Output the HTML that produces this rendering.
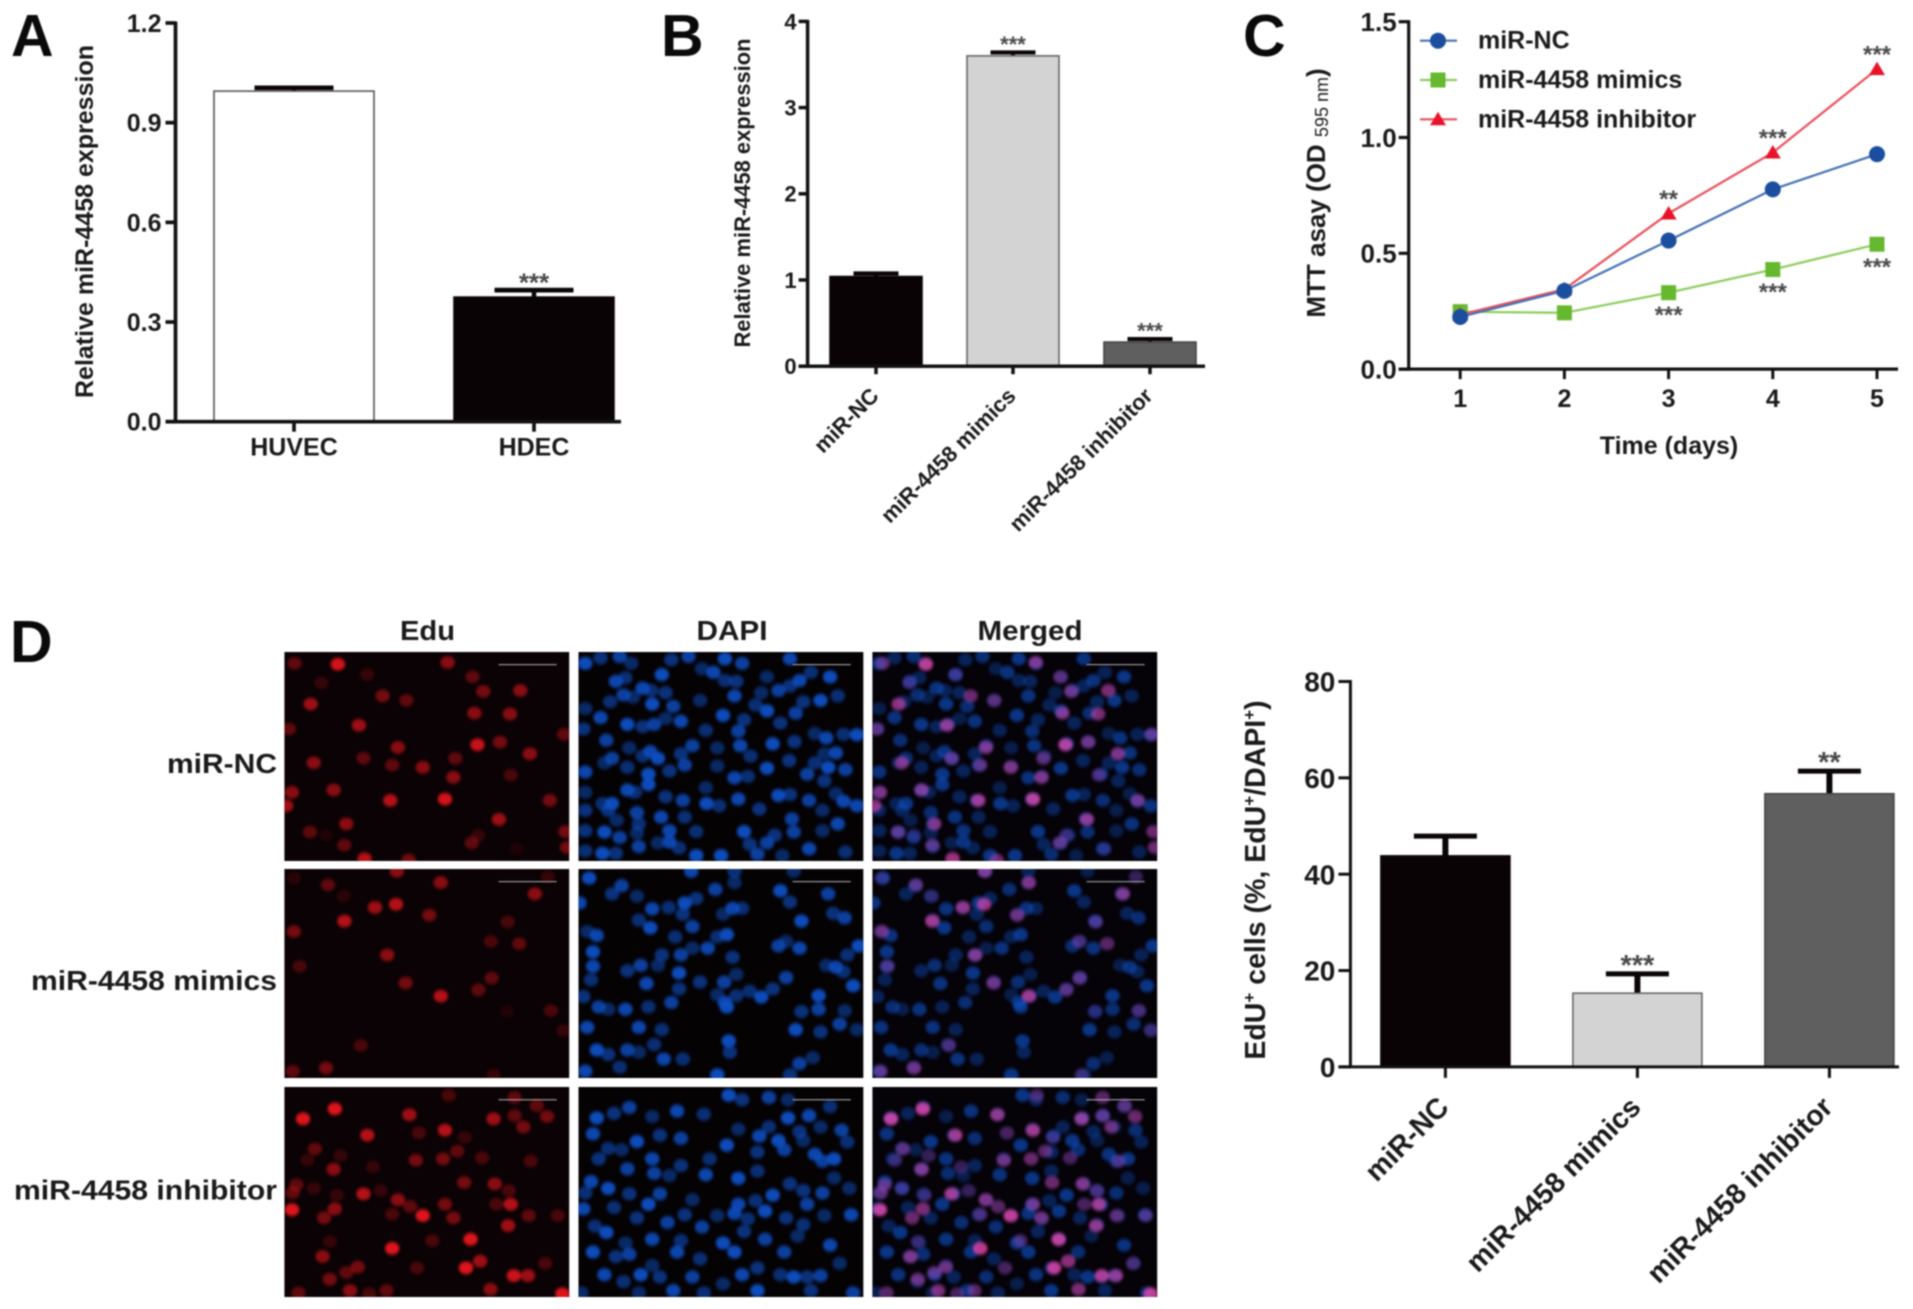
<!DOCTYPE html>
<html lang="en">
<head>
<meta charset="utf-8">
<title>miR-4458 figure</title>
<style>
html,body{margin:0;padding:0;background:#fff;}
svg#figure{display:block;}
text{font-family:"Liberation Sans",Arial,sans-serif;font-weight:bold;fill:#1a1a1a;}
.letter{font-size:59px;fill:#0a0a0a;}
.head{font-size:28px;}
</style>
</head>
<body>
<svg id="figure" xmlns="http://www.w3.org/2000/svg" width="1913" height="1309" viewBox="0 0 1913 1309">
<rect width="1913" height="1309" fill="#fff"/>
<g id="root" style="filter:blur(0.7px)">
<text class="letter" x="11" y="56">A</text>
<text class="letter" x="661" y="56">B</text>
<text class="letter" x="1243" y="56">C</text>
<text class="letter" x="10" y="662">D</text>

<text transform="rotate(-90 93 221.5)" x="93" y="221.5" text-anchor="middle" font-size="25" textLength="353" lengthAdjust="spacingAndGlyphs">Relative miR-4458 expression</text>
<text transform="rotate(-90 750 193)" x="750" y="193" text-anchor="middle" font-size="22" textLength="309" lengthAdjust="spacingAndGlyphs">Relative miR-4458 expression</text>
<text transform="rotate(-90 1325 193)" x="1325" y="193" text-anchor="middle" font-size="26">MTT asay (OD <tspan font-size="18" font-weight="normal" dy="3">595 nm</tspan><tspan dy="-3">)</tspan></text>
<text x="1669" y="454" text-anchor="middle" font-size="25">Time (days)</text>
<text transform="rotate(-90 1265 880)" x="1265" y="880" text-anchor="middle" font-size="28.5">EdU<tspan font-size="17" dy="-10">+</tspan><tspan dy="10"> cells (%, EdU</tspan><tspan font-size="17" dy="-10">+</tspan><tspan dy="10">/DAPI</tspan><tspan font-size="17" dy="-10">+</tspan><tspan dy="10">)</tspan></text>

<text class="head" x="427.5" y="640" text-anchor="middle" textLength="55" lengthAdjust="spacingAndGlyphs">Edu</text>
<text class="head" x="732" y="640" text-anchor="middle" textLength="71" lengthAdjust="spacingAndGlyphs">DAPI</text>
<text class="head" x="1030" y="640" text-anchor="middle" textLength="105" lengthAdjust="spacingAndGlyphs">Merged</text>
<text class="head" x="277" y="773" text-anchor="end" textLength="110" lengthAdjust="spacingAndGlyphs">miR-NC</text>
<text class="head" x="277" y="990" text-anchor="end" textLength="246" lengthAdjust="spacingAndGlyphs">miR-4458 mimics</text>
<text class="head" x="277" y="1199.5" text-anchor="end" textLength="263" lengthAdjust="spacingAndGlyphs">miR-4458 inhibitor</text>
<g id="micro"></g>
<g id="charts"></g>
</g>
</svg>
<script>
/* ---------- chart data ---------- */
const panelACategories = ['HUVEC', 'HDEC'];
const panelAValues = [0.995, 0.375];
const panelAErrors = [0.01, 0.021];
const panelAStars = ['', '***'];
const panelATicks = [0, 0.3, 0.6, 0.9, 1.2];
const panelATickLabels = ['0.0', '0.3', '0.6', '0.9', '1.2'];

const panelBCategories = ['miR-NC', 'miR-4458 mimics', 'miR-4458 inhibitor'];
const panelBValues = [1.04, 3.6, 0.28];
const panelBErrors = [0.035, 0.04, 0.035];
const panelBStars = ['', '***', '***'];
const panelBTicks = [0, 1, 2, 3, 4];
const panelBTickLabels = ['0', '1', '2', '3', '4'];

const panelCDays = [1, 2, 3, 4, 5];
const panelCNC = [0.225, 0.338, 0.555, 0.776, 0.928];
const panelCMimics = [0.248, 0.243, 0.33, 0.43, 0.539];
const panelCInhibitor = [0.235, 0.345, 0.672, 0.935, 1.295];
const panelCInhibitorStars = ['', '', '**', '***', '***'];
const panelCMimicsStars = ['', '', '***', '***', '***'];
const panelCTicks = [0, 0.5, 1.0, 1.5];
const panelCTickLabels = ['0.0', '0.5', '1.0', '1.5'];
const panelCLegendNames = ['miR-NC', 'miR-4458 mimics', 'miR-4458 inhibitor'];

const panelDCategories = ['miR-NC', 'miR-4458 mimics', 'miR-4458 inhibitor'];
const panelDValues = [43.8, 15.3, 56.7];
const panelDErrors = [4.1, 4.0, 4.7];
const panelDStars = ['', '***', '**'];
const panelDTicks = [0, 20, 40, 60, 80];
const panelDTickLabels = ['0', '20', '40', '60', '80'];

/* ---------- microscopy nuclei (panel image content, not chart data) ---------- */
const eduRow1 = [27,25,.4,140,27,.95,97,68,.2,217,50,.2,427,23,.6,492,55,.4,520,87,.5,617,85,.6,257,97,.5,319,107,.4,69,115,.7,195,162,.7,497,135,.6,590,137,.6,12,170,.4,731,182,.4,297,211,.6,505,205,.9,564,199,.5,642,225,.6,77,245,.6,207,235,.4,447,235,.4,282,250,.4,362,255,.6,592,272,.3,442,277,.6,129,305,.6,20,310,.6,277,328,.8,420,325,.95,694,328,.5,5,340,.7,162,380,.6,561,370,.7,67,398,.4,735,397,.5,507,405,.2,490,422,.4,157,427,.4,739,432,.5,210,457,.8,325,460,.5,109,405,.1,607,435,.1];
const eduRow2 = [25,20,.15,114,35,.4,155,60,.15,294,5,.6,409,30,.6,655,55,.6,689,17,.2,237,85,.7,292,78,.8,379,102,.5,157,115,.8,584,117,.3,25,138,.5,540,160,.3,614,165,.4,269,190,.6,40,215,.3,317,252,.5,542,241,.4,507,267,.4,409,281,.8,697,313,.3,729,357,.2,200,390,.3,109,440,.5,22,447,.4,582,315,.1,547,455,.2];
const eduRow3 = [49,70,1,132,48,1,327,61,.7,430,18,.3,547,70,.7,602,63,.4,660,41,.4,687,65,.5,625,88,.5,602,23,.4,217,106,.8,420,95,.8,352,101,.3,472,111,.2,80,136,.4,452,141,.4,147,151,.2,60,161,.2,344,161,.5,415,158,.5,517,156,.3,644,163,.3,129,181,.6,232,176,.2,470,210,.5,550,213,.6,587,228,.3,32,215,.4,77,223,.2,22,233,.4,137,238,.2,207,235,.8,252,228,.2,297,248,.6,329,263,.4,420,258,.5,592,258,.8,554,258,.3,20,270,1,132,268,.6,104,288,.5,282,280,.3,362,283,1,442,288,.5,639,283,.4,715,283,.3,585,305,.7,119,340,.2,387,338,.3,487,335,1,282,355,1,100,373,.6,512,383,.7,682,388,.3,192,396,.5,162,408,.4,347,398,.3,475,398,1,600,415,.9,637,415,.7,119,423,.5,172,448,.6,539,445,.6,267,448,.4,222,455,.3,727,455,1,37,453,.4];
const dapiRow1 = [18,25,58,13,108,10,138,25,98,65,123,57,218,50,243,17,288,10,323,37,353,45,383,63,383,15,413,65,428,25,493,55,553,15,608,45,658,55,553,75,523,85,478,90,578,63,678,97,633,107,588,110,118,95,143,100,168,80,190,85,193,115,228,90,248,120,318,107,408,97,463,117,493,130,528,157,568,135,18,125,58,145,83,110,128,160,168,165,198,160,228,147,268,153,333,173,378,140,433,150,418,175,618,180,648,190,693,182,728,183,13,170,73,195,133,212,188,220,168,230,208,235,268,225,298,207,363,212,423,207,450,230,508,203,565,198,88,235,68,245,18,265,128,255,183,270,238,263,278,250,363,252,408,278,443,275,493,257,551,240,598,270,643,225,673,223,618,245,653,255,643,285,698,260,18,310,128,305,148,310,183,293,228,320,273,328,333,300,418,325,368,340,523,317,553,315,603,328,673,313,693,330,63,335,88,335,78,350,153,355,100,372,216,365,278,365,335,335,473,347,558,369,638,350,728,340,158,380,68,398,18,395,108,410,153,400,238,395,308,397,433,397,513,405,563,398,638,395,678,380,18,440,63,445,98,445,158,430,208,422,238,420,263,433,308,450,448,425,493,422,533,450,603,435,698,442,373,450,18,350,468,447];
const dapiRow2 = [28,20,88,55,113,37,153,60,193,88,236,85,278,75,308,65,358,45,408,30,295,5,408,5,528,48,553,73,653,55,563,5,3,75,158,113,188,130,273,100,298,127,378,100,403,87,428,87,583,115,666,98,696,108,23,138,48,147,253,150,38,183,218,190,268,190,298,175,338,175,363,150,388,145,403,195,523,170,543,160,578,175,703,190,733,170,128,225,163,213,208,213,38,215,33,245,263,230,318,250,381,250,413,233,178,253,448,270,478,283,508,265,543,240,648,213,673,217,693,227,718,258,263,265,243,295,363,278,383,295,413,280,628,280,13,282,53,305,78,310,123,310,183,305,388,305,583,315,628,310,696,313,158,350,218,355,568,355,633,360,683,343,728,355,23,350,198,388,48,400,78,410,128,400,158,405,223,420,273,420,393,380,396,405,578,430,613,417,18,447,108,438,363,455,553,455];
const dapiRow3 = [48,68,93,58,133,45,193,65,258,53,328,60,393,18,428,28,498,23,548,28,603,63,658,43,548,68,213,106,268,113,418,93,473,108,498,88,523,118,578,98,688,95,633,88,38,103,78,135,153,120,53,158,128,180,113,138,193,158,343,158,388,128,468,143,538,138,588,118,618,148,703,121,668,158,268,173,198,190,238,195,333,193,468,185,418,201,553,213,638,163,668,200,33,208,18,233,78,223,133,235,213,235,298,248,418,258,463,250,508,238,588,228,638,233,708,223,13,268,93,265,183,258,278,281,323,308,363,283,408,278,443,290,488,273,543,288,598,258,643,283,713,281,43,306,73,320,153,288,233,298,123,343,193,335,268,338,378,343,433,318,488,335,573,328,658,348,588,303,38,363,98,373,133,368,193,393,258,363,318,378,408,363,468,398,538,363,683,388,68,413,118,428,163,413,213,418,298,418,378,433,428,413,528,413,563,418,598,418,633,415,158,453,248,448,328,453,468,448,608,448,718,453,8,453];

const svgNS = 'http://www.w3.org/2000/svg';
function svgEl(parent, tag, attrs) {
  const el = document.createElementNS(svgNS, tag);
  for (const k in attrs) el.setAttribute(k, attrs[k]);
  parent.appendChild(el);
  return el;
}

/* ---------- shared axis helpers ---------- */
function linear(d0, d1, r0, r1) {
  return v => r0 + (v - d0) * (r1 - r0) / (d1 - d0);
}
function drawYAxis(g, y, ticks, labels, o) {
  const axis = svgEl(g, 'line', {x1:o.x, x2:o.x, y1:y(ticks[ticks.length-1])-1.5, y2:y(0)+1.5, stroke:'#111', 'stroke-width':o.sw});
  
  
  ticks.forEach((t, i) => {
    const tick = svgEl(g, 'line', {x1:o.x-o.tick, x2:o.x, y1:y(t), y2:y(t), stroke:'#111', 'stroke-width':o.sw});
    
    
    const lab = svgEl(g, 'text', {x:o.x-o.tick-o.pad, y:y(t)+o.fs*0.36, 'text-anchor':'end', 'font-size':o.fs});
    
    
    lab.textContent = labels[i];
  });
}
function drawStars(g, cx, cy, str, fs, name) {
  if (!str) return;
  const s = svgEl(g, 'text', {x:cx, y:cy+fs*0.48, 'text-anchor':'middle', 'font-size':fs, style:'fill:#4a4a4a'});
  
  
  s.textContent = str;
}

/* ---------- bar chart ---------- */
function drawBarChart(o) {
  const g = svgEl(document.getElementById('charts'), 'g', {});
  
  
  const y = linear(0, o.ticks[o.ticks.length-1], o.y0, o.yTop);
  o.values.forEach((v, i) => {
    const cx = o.x0 + i * o.step;
    const topE = y(v + o.errors[i]);
    const stem = svgEl(g, 'line', {x1:cx, x2:cx, y1:topE, y2:y(v), stroke:'#0a0507', 'stroke-width':o.stemW});
    
    
    const cap = svgEl(g, 'line', {x1:cx-o.capW/2, x2:cx+o.capW/2, y1:topE, y2:topE, stroke:'#0a0507', 'stroke-width':o.capH});
    
    
    const bar = svgEl(g, 'rect', {x:cx-o.barW/2, y:y(v), width:o.barW, height:y(0)-y(v), fill:o.fills[i], stroke:o.strokes[i], 'stroke-width':1.6});
    
    
    drawStars(g, cx, topE-o.starGap, o.stars[i], o.starFs, o.name + '-significance');
    const tick = svgEl(g, 'line', {x1:cx, x2:cx, y1:o.y0, y2:o.y0+o.tickLen, stroke:'#111', 'stroke-width':o.sw});
    
    
    const attrs = o.rotate
      ? {x:cx+o.labelDx, y:o.y0+o.labelDy, 'text-anchor':'end', 'font-size':o.labelFs, transform:'rotate(-45 '+(cx+o.labelDx)+' '+(o.y0+o.labelDy)+')'}
      : {x:cx, y:o.y0+o.labelDy, 'text-anchor':'middle', 'font-size':o.labelFs};
    const lab = svgEl(g, 'text', attrs);
    
    
    lab.textContent = o.categories[i];
  });
  const xAxis = svgEl(g, 'line', {x1:o.axisX-o.tick, x2:o.xEnd, y1:o.y0, y2:o.y0, stroke:'#111', 'stroke-width':o.sw});
  
  
  drawYAxis(g, y, o.ticks, o.tickLabels, {x:o.axisX, tick:o.tick, pad:o.tickPad, fs:o.tickFs, sw:o.sw, name:o.name});
}

drawBarChart({name:'chart-a', categories:panelACategories, values:panelAValues, errors:panelAErrors, stars:panelAStars,
  ticks:panelATicks, tickLabels:panelATickLabels, y0:421.7, yTop:23, axisX:175.5, xEnd:621, x0:294, step:240,
  barW:160, capW:79, capH:4.7, stemW:4.5, sw:3.7, tick:10, tickPad:4, tickFs:25, tickLen:10,
  fills:['#ffffff','#0a0305'], strokes:['#555','#0a0305'], starFs:26, starGap:11, labelFs:25, labelDy:34, rotate:false});

drawBarChart({name:'chart-b', categories:panelBCategories, values:panelBValues, errors:panelBErrors, stars:panelBStars,
  ticks:panelBTicks, tickLabels:panelBTickLabels, y0:366.2, yTop:21.4, axisX:807.6, xEnd:1205, x0:876, step:137,
  barW:92, capW:45, capH:4.2, stemW:4, sw:3.5, tick:9, tickPad:2, tickFs:22, tickLen:8,
  fills:['#0a0305','#d3d3d3','#5f5f5f'], strokes:['#0a0305','#666','#444'], starFs:22, starGap:11, labelFs:22, labelDx:4, labelDy:31, rotate:true});

drawBarChart({name:'chart-d', categories:panelDCategories, values:panelDValues, errors:panelDErrors, stars:panelDStars,
  ticks:panelDTicks, tickLabels:panelDTickLabels, y0:1066.9, yTop:681.5, axisX:1350.4, xEnd:1899, x0:1445.4, step:192,
  barW:129, capW:63, capH:5, stemW:6, sw:3, tick:12, tickPad:3, tickFs:28, tickLen:11,
  fills:['#0a0305','#d3d3d3','#5f5f5f'], strokes:['#0a0305','#666','#444'], starFs:29, starGap:13, labelFs:28.5, labelDx:5, labelDy:42, rotate:true});

/* ---------- line chart C ---------- */
(function drawLineChart() {
  const g = svgEl(document.getElementById('charts'), 'g', {});
  
  
  const axisX = 1408.7, y0 = 369.1;
  const x = linear(1, 5, 1460.2, 1877);
  const y = linear(0, 1.5, y0, 21.7);
  const xAxis = svgEl(g, 'line', {x1:axisX-10, x2:1898, y1:y0, y2:y0, stroke:'#111', 'stroke-width':3.2});
  
  
  drawYAxis(g, y, panelCTicks, panelCTickLabels, {x:axisX, tick:10, pad:2, fs:26, sw:3.2, name:'chart-c'});
  panelCDays.forEach(d => {
    const tick = svgEl(g, 'line', {x1:x(d), x2:x(d), y1:y0, y2:y0+10, stroke:'#111', 'stroke-width':3});
    
    
    const lab = svgEl(g, 'text', {x:x(d), y:407, 'text-anchor':'middle', 'font-size':25});
    
    
    lab.textContent = d;
  });
  function marker(kind, cx, cy, color, name) {
    let m;
    if (kind === 'circle') m = svgEl(g, 'circle', {cx:cx, cy:cy, r:8, fill:color});
    else if (kind === 'square') m = svgEl(g, 'rect', {x:cx-7.5, y:cy-7.5, width:15, height:15, fill:color});
    else m = svgEl(g, 'polygon', {points:(cx-8)+','+(cy+6)+' '+(cx+8)+','+(cy+6)+' '+cx+','+(cy-7.5), fill:color});
    
    
  }
  function series(vals, kind, color, lineColor, name) {
    const l = svgEl(g, 'polyline', {points:vals.map((v,i)=>x(panelCDays[i])+','+y(v)).join(' '), fill:'none', stroke:lineColor, 'stroke-width':2.2});
    
    
    vals.forEach((v,i)=>marker(kind, x(panelCDays[i]), y(v), color, name + '-point'));
  }
  series(panelCMimics, 'square', '#66b82e', '#8ccc5a', 'series-mimics');
  series(panelCInhibitor, 'triangle', '#e8132a', '#e8505a', 'series-inhibitor');
  series(panelCNC, 'circle', '#1c4ea0', '#4470b5', 'series-nc');
  panelCInhibitorStars.forEach((s,i)=>drawStars(g, x(panelCDays[i]), y(panelCInhibitor[i])-18, s, 24, 'inhibitor-significance'));
  panelCMimicsStars.forEach((s,i)=>drawStars(g, x(panelCDays[i]), y(panelCMimics[i])+19, s, 24, 'mimics-significance'));
  const kinds = ['circle','square','triangle'];
  const colors = ['#1c4ea0','#66b82e','#e8132a'];
  const lineColors = ['#4470b5','#8ccc5a','#e8505a'];
  panelCLegendNames.forEach((n,i)=>{
    const ly = 40.7 + i*39.3;
    const l = svgEl(g, 'line', {x1:1420, x2:1457, y1:ly, y2:ly, stroke:lineColors[i], 'stroke-width':2.2});
    
    
    marker(kinds[i], 1438, ly, colors[i], 'legend-marker');
    const t = svgEl(g, 'text', {x:1478, y:ly+8, 'font-size':25});
    
    
    t.textContent = n;
  });
})();

/* ---------- microscopy grid ---------- */
(function drawMicroscopy() {
  const host = document.getElementById('micro');
  const colX = [284.3, 578.4, 872.3];
  const colW = 285;
  const rowY = [652, 869, 1087];
  const rowH = [209, 209, 210];
  const colNames = ['edu', 'dapi', 'merged'];
  const backs = ['#0a0204', '#050204', '#050208'];
  const reds = [eduRow1, eduRow2, eduRow3];
  const blues = [dapiRow1, dapiRow2, dapiRow3];
  const levels = [.95, .62, .8, .5, .88, .58];
  function addRed(svg, arr, screen) {
    const k = screen ? 0.75 : 0.92;
    const g = svgEl(svg, 'g', {style:'filter:blur(3.5px);' + (screen ? 'mix-blend-mode:screen' : '')});
    
    
    for (let i = 0; i < arr.length; i += 3) {
      const c = svgEl(g, 'ellipse', {cx:arr[i], cy:arr[i+1], rx:19, ry:14, fill:'#f0161e', opacity:arr[i+2]*k});
      
      
    }
  }
  function addBlue(svg, arr, dim, extra) {
    const g = svgEl(svg, 'g', {style:'filter:blur(3.5px)'});
    
    
    for (let i = 0; i < arr.length; i += 2) {
      const c = svgEl(g, 'ellipse', {cx:arr[i], cy:arr[i+1], rx:19, ry:14.5, fill:'#0e4fc4', opacity:levels[(i/2)%6]*dim});
      
      
    }
    /* in the merged view every EdU nucleus sits on a DAPI nucleus, giving magenta */
    if (extra) {
      for (let i = 0; i < extra.length; i += 3) {
        const u = svgEl(g, 'ellipse', {cx:extra[i], cy:extra[i+1], rx:19, ry:14.5, fill:'#243aa8', opacity:0.4+0.35*extra[i+2]});
        
        
      }
    }
  }
  rowY.forEach((ry, r) => {
    colX.forEach((cx, c) => {
      const svg = svgEl(host, 'svg', {x:cx, y:ry, width:colW, height:rowH[r], viewBox:'0 0 745 462', preserveAspectRatio:'none'});
      
      
      const bg = svgEl(svg, 'rect', {width:745, height:462, fill:backs[c]});
      
      
      if (c === 0) addRed(svg, reds[r], false);
      if (c === 1) addBlue(svg, blues[r], 1);
      if (c === 2) { addBlue(svg, blues[r], 0.7, reds[r]); addRed(svg, reds[r], true); }
      const bar = svgEl(svg, 'line', {x1:560, x2:712, y1:28, y2:28, stroke:'#b5b5b5', 'stroke-width':2.2});
      
      
    });
  });
})();
</script>
</body>
</html>
